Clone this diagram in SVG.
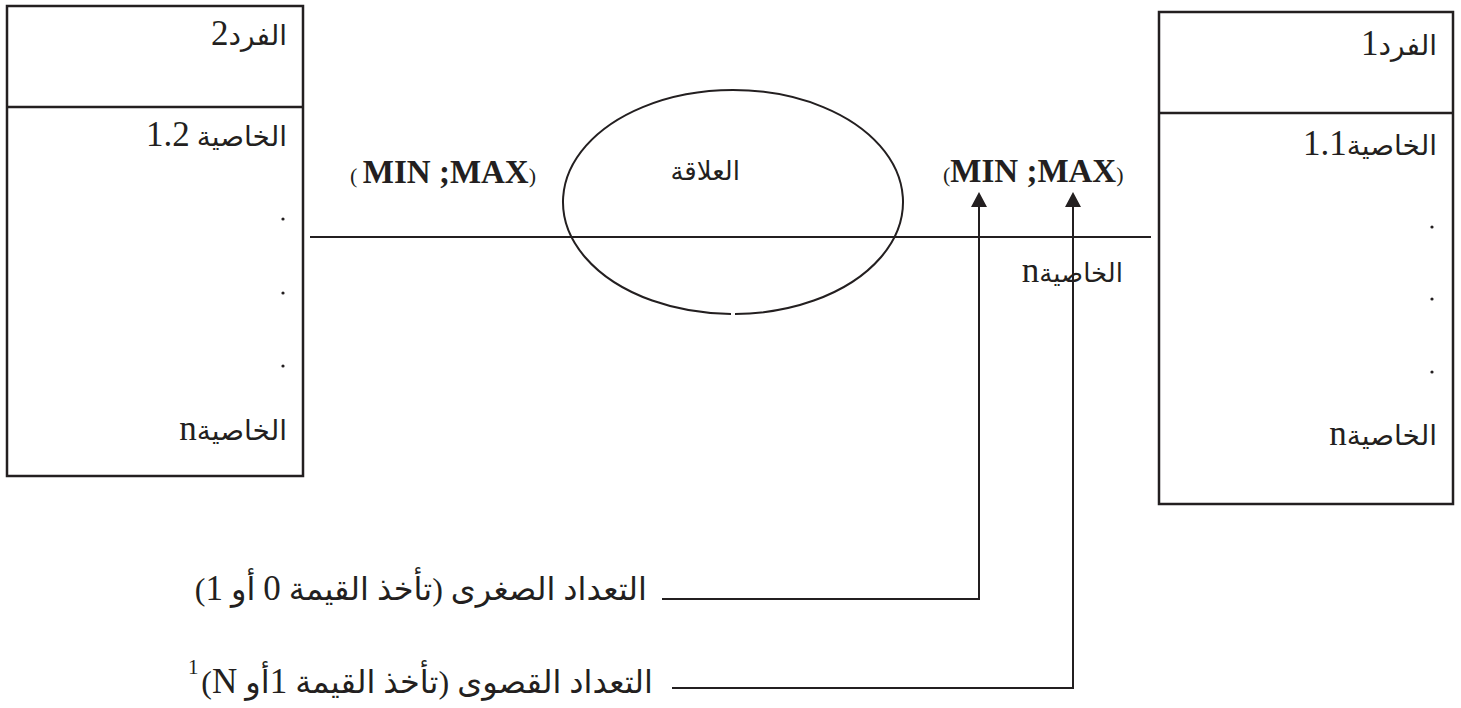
<svg xmlns="http://www.w3.org/2000/svg" width="1461" height="708" viewBox="0 0 1461 708">
  <style>
    .box { fill: #ffffff; stroke: #231f20; stroke-width: 2.5; }
    .rule { stroke: #231f20; stroke-width: 2.5; fill: none; }
    .wire { stroke: #231f20; stroke-width: 2; fill: none; }
    .ar { font-family: 'Liberation Serif', 'DejaVu Sans', serif; font-size: 28px; fill: #231f20; direction: rtl; }
    .ar-sm { font-size: 26px; }
    .ar-lg { font-size: 32px; }
    .num { font-size: 35px; }
    .lat { font-family: 'Liberation Serif', serif; fill: #231f20; }
    .card { font-family: 'Liberation Serif', serif; font-size: 33px; font-weight: bold; fill: #231f20; }
    .paren { font-family: 'Liberation Serif', serif; font-size: 22px; font-weight: normal; }
    .dot { fill: #231f20; }
  </style>

  <rect width="1461" height="708" fill="#ffffff"/>

  <!-- connectors -->
  <g id="connectors">
    <line class="wire" x1="310" y1="237" x2="1151" y2="237"/>
    <path class="wire" d="M662,599 H979 V207"/>
    <path class="wire" d="M672,688 H1073 V207"/>
    <path d="M971,207 L979,192 L987,207 Z" fill="#231f20"/>
    <path d="M1065,207 L1073,192 L1081,207 Z" fill="#231f20"/>
  </g>

  <!-- entity 2 (left) -->
  <g id="entity2">
    <rect class="box" x="7" y="6" width="296" height="470"/>
    <line class="rule" x1="7" y1="107" x2="303" y2="107"/>
    <text class="ar" x="287" y="45">الفرد<tspan class="num">2</tspan></text>
    <text class="ar" x="287" y="146">الخاصية <tspan class="num">1.2</tspan></text>
    <circle class="dot" cx="283" cy="219" r="1.6"/>
    <circle class="dot" cx="283" cy="293" r="1.6"/>
    <circle class="dot" cx="283" cy="366" r="1.6"/>
    <text class="ar" x="287" y="440">الخاصية<tspan class="num">n</tspan></text>
  </g>

  <!-- entity 1 (right) -->
  <g id="entity1">
    <rect class="box" x="1159" y="12" width="294" height="492"/>
    <line class="rule" x1="1159" y1="113" x2="1453" y2="113"/>
    <text class="ar" x="1437" y="55">الفرد<tspan class="num">1</tspan></text>
    <text class="ar" x="1437" y="155">الخاصية<tspan class="num">1.1</tspan></text>
    <circle class="dot" cx="1432" cy="227" r="1.6"/>
    <circle class="dot" cx="1432" cy="299" r="1.6"/>
    <circle class="dot" cx="1432" cy="372" r="1.6"/>
    <text class="ar" x="1437" y="445">الخاصية<tspan class="num">n</tspan></text>
  </g>

  <!-- relationship -->
  <g id="relation">
    <path class="wire" d="M731,314 A170,112 0 1 1 735,314"/>
    <text class="ar ar-sm" x="740" y="180">العلاقة</text>
  </g>

  <!-- cardinalities -->
  <g id="card-left">
    <text class="card" x="350" y="183"><tspan class="paren">( </tspan>MIN ;MAX<tspan class="paren">)</tspan></text>
  </g>
  <g id="card-right">
    <text class="card" x="943" y="182"><tspan class="paren">(</tspan>MIN ;MAX<tspan class="paren">)</tspan></text>
  </g>

  <g id="attr-n">
    <text class="ar ar-sm" x="1123" y="282">الخاصية<tspan class="num">n</tspan></text>
  </g>

  <!-- legends -->
  <g id="legend-min">
    <text class="ar ar-lg" x="647" y="600">التعداد الصغرى (تأخذ القيمة <tspan class="num">0</tspan> أو <tspan class="num">1</tspan>)</text>
  </g>
  <g id="legend-max">
    <text class="ar ar-lg" x="653" y="693">التعداد القصوى (تأخذ القيمة <tspan class="num">1</tspan>أو <tspan class="num">N</tspan>)</text>
    <text class="lat" x="188" y="674" font-size="21">1</text>
  </g>
</svg>
